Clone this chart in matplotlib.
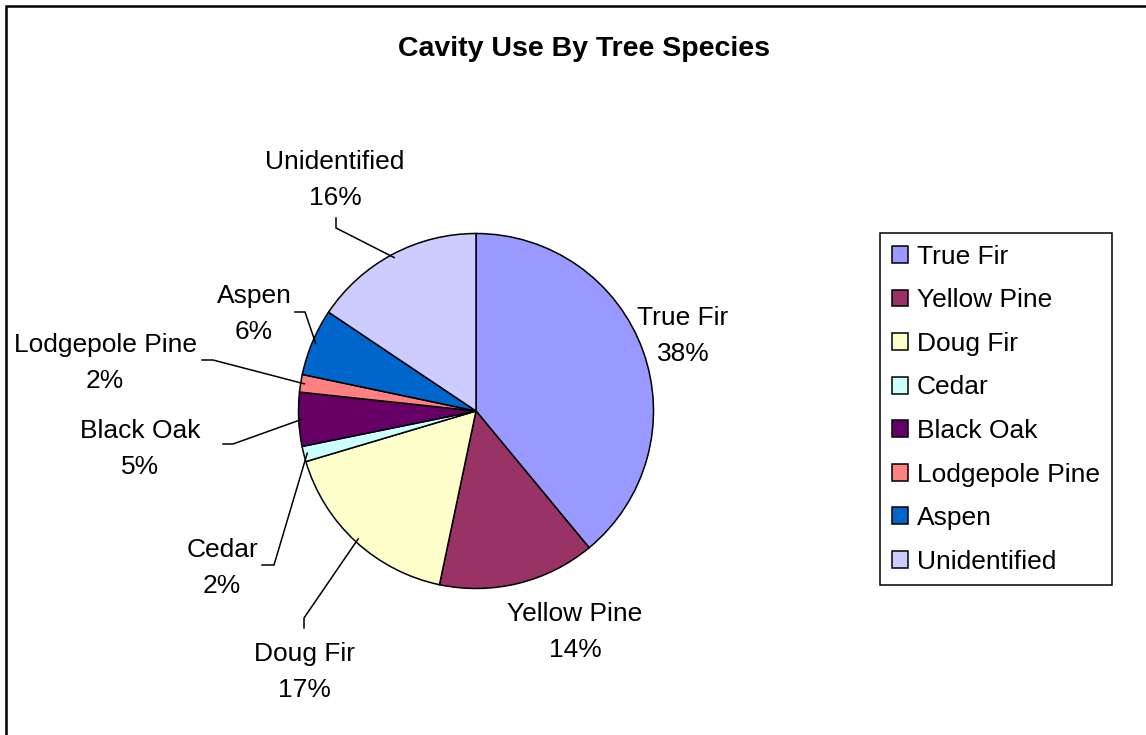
import matplotlib.pyplot as plt
import numpy as np
from matplotlib.patches import Patch, Rectangle

plt.rcParams['font.family'] = ['Liberation Sans', 'DejaVu Sans']

species = ['True Fir', 'Yellow Pine', 'Doug Fir', 'Cedar', 'Black Oak',
           'Lodgepole Pine', 'Aspen', 'Unidentified']
# wedge sizes as measured off the slices, and the percentages printed on the chart
share = [39.0, 14.3, 17.1, 1.4, 4.9, 1.6, 6.1, 15.6]
pct_text = [38, 14, 17, 2, 5, 2, 6, 16]
colors = ['#9999FF', '#993366', '#FFFFCC', '#CCFFFF', '#660066',
          '#FF8080', '#0066CC', '#CCCCFF']

W, H = 1146, 735

# label layout in pixels (x, y from top): text centre, leader elbow, leader end
label_pos = {
    'True Fir': ((683, 336), None, None),
    'Yellow Pine': ((575, 632), None, None),
    'Doug Fir': ((304, 672), (304, 618), (304, 628)),
    'Cedar': ((222, 568), (274, 565), (262, 565)),
    'Black Oak': ((140, 449), (233, 444), (223, 444)),
    'Lodgepole Pine': ((105, 363), (213, 360), (202, 360)),
    'Aspen': ((254, 314), (305, 312), (295, 312)),
    'Unidentified': ((335, 180), (336, 228), (336, 218)),
}


def px(x, y):
    return x, H - y


fig = plt.figure(figsize=(W / 100, H / 100), dpi=100)
ax = fig.add_axes([0, 0, 1, 1])

cx, cy = px(476, 411)
r = 177.5
wedges, _ = ax.pie(share, colors=colors, startangle=90, counterclock=False,
                   center=(cx, cy), radius=r, frame=True,
                   wedgeprops=dict(edgecolor='black', linewidth=1.1))
ax.set_xlim(0, W)
ax.set_ylim(0, H)
ax.set_aspect('equal')
ax.axis('off')

for w, name, pct in zip(wedges, species, pct_text):
    (tx, ty), elbow, end = label_pos[name]
    ax.text(*px(tx, ty), f'{name}\n{pct}%', ha='center', va='center',
            fontsize=19, linespacing=1.59)
    if elbow is not None:
        mid = np.deg2rad((w.theta1 + w.theta2) / 2)
        sx, sy = cx + 0.98 * r * np.cos(mid), cy + 0.98 * r * np.sin(mid)
        ex, ey = px(*elbow)
        qx, qy = px(*end)
        ax.plot([sx, ex, qx], [sy, ey, qy], color='black', lw=1.1)

ax.text(*px(584, 49), 'Cavity Use By Tree Species', ha='center', va='center',
        fontsize=20.5, fontweight='bold')

# outer chart frame (right and bottom edges run off the image)
ax.add_patch(Rectangle(px(5.5, 760), W + 50, 760 - 5.5, fill=False,
                       edgecolor='black', lw=1.8, clip_on=False))

handles = [Patch(facecolor=c, edgecolor='black', linewidth=1.1) for c in colors]
leg = fig.legend(handles, species, loc='upper left',
                 bbox_to_anchor=(880 / W, 1 - 233 / H), borderaxespad=0,
                 fontsize=19, handlelength=0.6, handleheight=0.6,
                 handletextpad=0.35, labelspacing=0.74, borderpad=0.45,
                 fancybox=False, framealpha=1, edgecolor='black')
leg.get_frame().set_linewidth(1.1)

fig.savefig('out.png', dpi=100)
